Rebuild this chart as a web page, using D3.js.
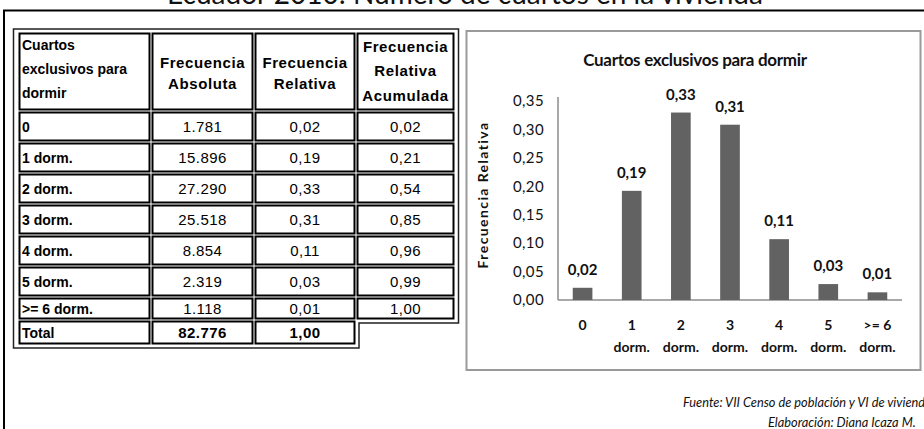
<!DOCTYPE html>
<html><head><meta charset="utf-8">
<script src="https://cdn.jsdelivr.net/npm/d3@7/dist/d3.min.js"></script>
<style>body{margin:0;background:#fff}svg{display:block}</style>
</head><body>
<svg id="c" width="924" height="429"></svg>
<script>
// ---------- DATA ----------
const categories = ["0", "1 dorm.", "2 dorm.", "3 dorm.", "4 dorm.", "5 dorm.", ">= 6 dorm."];
const axisLabels = [["0"], ["1", "dorm."], ["2", "dorm."], ["3", "dorm."], ["4", "dorm."], ["5", "dorm."], [">= 6", "dorm."]];
const absFreq = [1781, 15896, 27290, 25518, 8854, 2319, 1118];
const absLabels = ["1.781", "15.896", "27.290", "25.518", "8.854", "2.319", "1.118"];
const relFreq = [0.0215, 0.1920, 0.3297, 0.3083, 0.1070, 0.0280, 0.0135];
const relLabels = ["0,02", "0,19", "0,33", "0,31", "0,11", "0,03", "0,01"];
const cumLabels = ["0,02", "0,21", "0,54", "0,85", "0,96", "0,99", "1,00"];
const totalLabels = ["Total", "82.776", "1,00"];
const headers = [["Cuartos", "exclusivos para", "dormir"], ["Frecuencia", "Absoluta"], ["Frecuencia", "Relativa"], ["Frecuencia", "Relativa", "Acumulada"]];
const yTicks = [0, 0.05, 0.10, 0.15, 0.20, 0.25, 0.30, 0.35];
const titleText = "Ecuador 2010: Número de cuartos en la vivienda";
const chartTitle = "Cuartos exclusivos para dormir";
const yAxisTitle = "Frecuencia Relativa";
const sourceText = "Fuente: VII Censo de población y VI de vivienda";
const authorText = "Elaboración: Diana Icaza M.";

// ---------- PAGE ----------
const svg = d3.select("#c");

// page title (cut at top)
svg.append("text").attr("x", 465).attr("y", 4).attr("text-anchor", "middle")
  .attr("font-family", "Lato").attr("font-size", 28).attr("fill", "#111").text(titleText);

// outer frame
svg.append("path").attr("d", "M4,429 L4,10.5 L924,10.5").attr("fill", "none")
  .attr("stroke", "#000").attr("stroke-width", 2);

// ---------- TABLE ----------
const gx = [18, 151, 254, 356, 455];
const gy = [32, 111, 142, 173, 204, 235, 266, 297, 320, 345];
const tf = "Liberation Sans";
const tbl = svg.append("g");

// outer border polygon
tbl.append("path")
  .attr("d", `M13.5,29 L458.5,29 L458.5,${gy[8] + 3} L${gx[3] + 3},${gy[8] + 3} L${gx[3] + 3},${gy[9] + 3} L13.5,${gy[9] + 3} Z`)
  .attr("fill", "none").attr("stroke", "#222").attr("stroke-width", 1.5);

function cell(c, r) {
  tbl.append("rect").attr("x", gx[c] + 1.5).attr("y", gy[r] + 1.5)
    .attr("width", gx[c + 1] - gx[c] - 3).attr("height", gy[r + 1] - gy[r] - 3)
    .attr("fill", "#fff").attr("stroke", "#000").attr("stroke-width", 2);
}
for (let r = 0; r < 8; r++) for (let c = 0; c < 4; c++) cell(c, r);
for (let c = 0; c < 3; c++) cell(c, 8);

// headers
const hdrY = [[45, 69, 93], [62, 83], [62, 83], [46, 70, 95]];
headers.forEach((lines, c) => {
  lines.forEach((t, i) => {
    const tx = tbl.append("text").attr("y", hdrY[c][i]).attr("dominant-baseline", "central")
      .attr("font-family", tf).attr("font-weight", "bold").text(t);
    if (c === 0) tx.attr("x", gx[0] + 4).attr("font-size", 14);
    else tx.attr("x", (gx[c] + gx[c + 1]) / 2).attr("text-anchor", "middle")
      .attr("font-size", 15).attr("letter-spacing", 0.6);
  });
});

// body rows
categories.forEach((cat, r) => {
  const cy = (gy[r + 1] + gy[r + 2]) / 2;
  tbl.append("text").attr("x", gx[0] + 4).attr("y", cy).attr("dominant-baseline", "central")
    .attr("font-family", tf).attr("font-weight", "bold").attr("font-size", 14).text(cat);
  [absLabels[r], relLabels[r], cumLabels[r]].forEach((v, k) => {
    tbl.append("text").attr("x", (gx[k + 1] + gx[k + 2]) / 2).attr("y", cy)
      .attr("dominant-baseline", "central").attr("text-anchor", "middle")
      .attr("font-family", tf).attr("font-size", 15).attr("letter-spacing", 0.4).text(v);
  });
});
// total row
{
  const cy = (gy[8] + gy[9]) / 2;
  totalLabels.forEach((v, k) => {
    const t = tbl.append("text").attr("y", cy).attr("dominant-baseline", "central")
      .attr("font-family", tf).attr("font-weight", "bold").attr("font-size", k === 0 ? 14 : 15).text(v);
    if (k === 0) t.attr("x", gx[0] + 4);
    else t.attr("x", (gx[k] + gx[k + 1]) / 2).attr("text-anchor", "middle").attr("letter-spacing", 0.4);
  });
}

// ---------- CHART ----------
svg.append("rect").attr("x", 466.5).attr("y", 31).attr("width", 454).attr("height", 339)
  .attr("fill", "#fff").attr("stroke", "#9a9a9a").attr("stroke-width", 2);

const cf = "Lato";
svg.append("text").attr("x", 695).attr("y", 66).attr("text-anchor", "middle")
  .attr("font-family", cf).attr("font-weight", "bold").attr("font-size", 17)
  .attr("letter-spacing", -0.3).attr("fill", "#111").text(chartTitle);

const x = d3.scaleBand().domain(categories).range([558, 902]).paddingInner(0.6).paddingOuter(0.3);
const y = d3.scaleLinear().domain([0, 0.35]).range([300, 101]);

// y axis
const yAxis = svg.append("g").attr("transform", "translate(558,0)")
  .call(d3.axisLeft(y).tickValues(yTicks).tickSize(0).tickPadding(14)
    .tickFormat(d => d3.format(".2f")(d).replace(".", ",")));
yAxis.select(".domain").attr("stroke", "#8c8c8c").attr("stroke-width", 1.5)
  .attr("d", "M0,97V300");
yAxis.selectAll("text").attr("font-family", cf).attr("font-size", 15).attr("fill", "#111")
  .attr("letter-spacing", 0.4);

// x axis
const xAxis = svg.append("g").attr("transform", "translate(0,300)")
  .call(d3.axisBottom(x).tickSize(0).tickFormat(""));
xAxis.select(".domain").attr("stroke", "#8c8c8c").attr("stroke-width", 1.5).attr("d", "M558,0H902");

// bars
svg.append("g").selectAll("rect").data(relFreq).join("rect")
  .attr("x", (d, i) => x(categories[i])).attr("width", x.bandwidth())
  .attr("y", d => y(d)).attr("height", d => y(0) - y(d)).attr("fill", "#626262");

// bar labels
svg.append("g").selectAll("text").data(relFreq).join("text")
  .attr("x", (d, i) => x(categories[i]) + x.bandwidth() / 2).attr("y", d => y(d) - 13)
  .attr("text-anchor", "middle").attr("font-family", cf).attr("font-weight", "bold")
  .attr("font-size", 15).attr("fill", "#111").text((d, i) => relLabels[i]);

// category labels
axisLabels.forEach((lines, i) => {
  lines.forEach((t, k) => {
    svg.append("text").attr("x", x(categories[i]) + x.bandwidth() / 2).attr("y", 330 + k * 22)
      .attr("text-anchor", "middle").attr("font-family", cf).attr("font-weight", "bold")
      .attr("font-size", 14).attr("fill", "#111").text(t);
  });
});

// y axis title
svg.append("text").attr("transform", "translate(488,195) rotate(-90)").attr("text-anchor", "middle")
  .attr("font-family", cf).attr("font-weight", "bold").attr("font-size", 14)
  .attr("letter-spacing", 1.4).attr("fill", "#111").text(yAxisTitle);

// footer
svg.append("text").attr("x", 683).attr("y", 407).attr("font-family", cf).attr("font-style", "italic")
  .attr("font-size", 12.8).attr("fill", "#111").text(sourceText);
svg.append("text").attr("x", 768).attr("y", 427).attr("font-family", cf).attr("font-style", "italic")
  .attr("font-size", 12.8).attr("fill", "#111").text(authorText);
</script>
</body></html>
